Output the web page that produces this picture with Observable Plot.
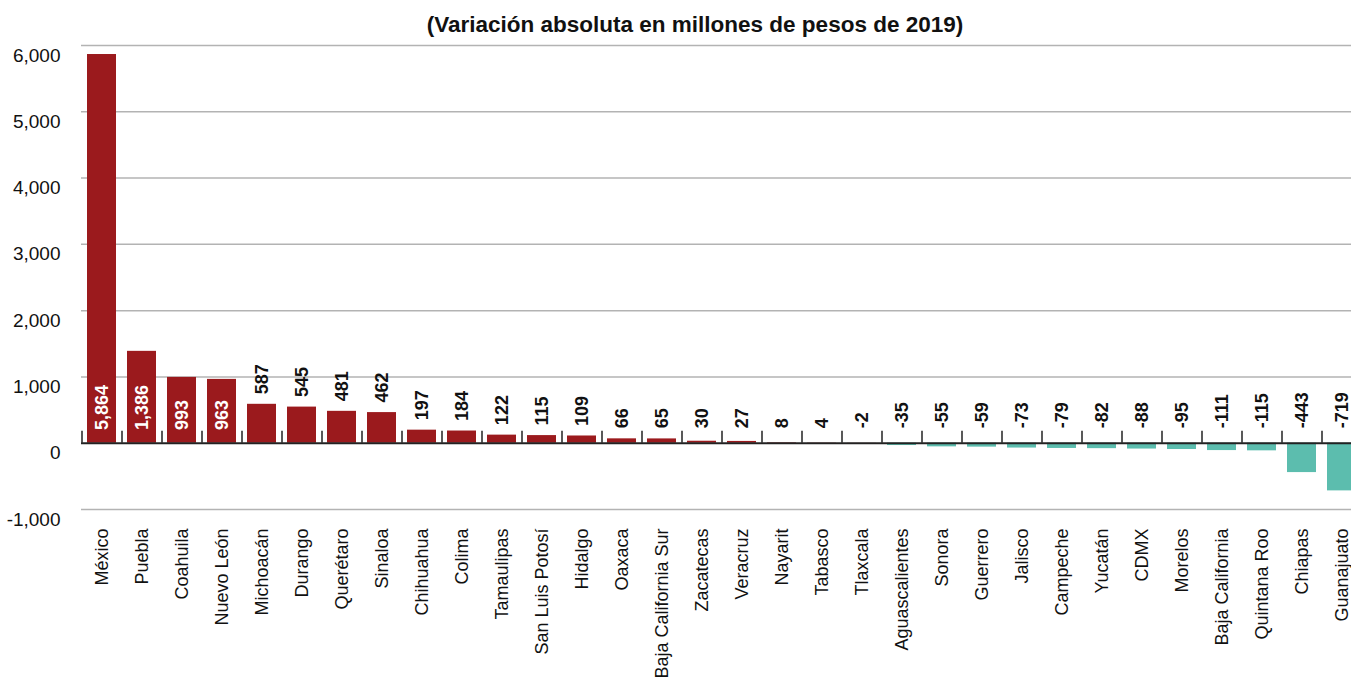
<!DOCTYPE html>
<html><head><meta charset="utf-8">
<script src="https://cdn.jsdelivr.net/npm/d3@7"></script>
<script src="https://cdn.jsdelivr.net/npm/@observablehq/plot@0.6"></script>
<style>
body{margin:0;overflow:hidden;background:#fff;}
#wrap{position:relative;width:1351px;height:677px;overflow:hidden;font-family:"Liberation Sans",Arial,sans-serif;color:#111}
#title{position:absolute;top:12px;left:0;width:1390px;text-align:center;font-weight:bold;font-size:22.5px;z-index:2}
#chart{position:absolute;top:0;left:0;width:1361px}
#chart svg{max-width:none !important;}
</style></head><body>
<div id="wrap"><div id="title">(Variación absoluta en millones de pesos de 2019)</div><div id="chart"></div></div>
<script>
const estados = ["México","Puebla","Coahuila","Nuevo León","Michoacán","Durango","Querétaro","Sinaloa","Chihuahua","Colima","Tamaulipas","San Luis Potosí","Hidalgo","Oaxaca","Baja California Sur","Zacatecas","Veracruz","Nayarit","Tabasco","Tlaxcala","Aguascalientes","Sonora","Guerrero","Jalisco","Campeche","Yucatán","CDMX","Morelos","Baja California","Quintana Roo","Chiapas","Guanajuato"];
const valores = [5864,1386,993,963,587,545,481,462,197,184,122,115,109,66,65,30,27,8,4,-2,-35,-55,-59,-73,-79,-82,-88,-95,-111,-115,-443,-719];
const yTicks = [-1000,0,1000,2000,3000,4000,5000,6000];
const nRojos = 20;      // bars drawn in the first colour (México … Tlaxcala)
const nEtiquetasDentro = 4; // labels drawn inside the bar

const RED = "#9b1a1d", TEAL = "#5cbdae";
const fmt = d => d.toLocaleString("en-US");
const data = estados.map((e,i)=>({estado:e, valor:valores[i], i}));
const dentro = data.filter(d=>d.i < nEtiquetasDentro);
const fuera = data.filter(d=>d.i >= nEtiquetasDentro);

const chart = Plot.plot({
  width: 1361, height: 677,
  marginLeft: 81, marginRight: 0, marginTop: 45, marginBottom: 168,
  style: {fontFamily: '"Liberation Sans", Arial, sans-serif', color: "#111", background: "white", maxWidth: "none"},
  x: {domain: estados, paddingInner: 0.275, paddingOuter: 0.1375, label: null},
  y: {domain: [-1000, 6000], label: null},
  marks: [
    Plot.ruleY(yTicks.filter(t=>t!==0), {stroke:"#b3b3b3", strokeWidth:1.5}),
    Plot.barY(data, {x:"estado", y:"valor", fill: d => d.i < nRojos ? RED : TEAL}),
    Plot.ruleY([0], {stroke:"#222", strokeWidth:2}),
    Plot.ruleX(data, {x:"estado", dx:-20, y1:0, y2:180, stroke:"#222", strokeWidth:1.5}),
    Plot.ruleX(data.slice(-1), {x:"estado", dx:20, y1:0, y2:180, stroke:"#222", strokeWidth:1.5}),
    Plot.text(dentro, {x:"estado", y:200, text: d=>fmt(d.valor), rotate:-90, textAnchor:"start", fill:"white", fontWeight:"bold", fontSize:18}),
    Plot.text(fuera, {x:"estado", y: d=>Math.max(d.valor, 75), dy:-10, text: d=>fmt(d.valor), rotate:-90, textAnchor:"start", fill:"#111", fontWeight:"bold", fontSize:18}),
    Plot.axisY({ticks: yTicks, tickSize:0, tickPadding:21, dy:10, fontSize:19, tickFormat: fmt, label:null}),
    Plot.axisX({tickSize:0, tickPadding:19, tickRotate:-90, fontSize:18, label:null})
  ]
});
document.getElementById("chart").appendChild(chart);
</script>
</body></html>
